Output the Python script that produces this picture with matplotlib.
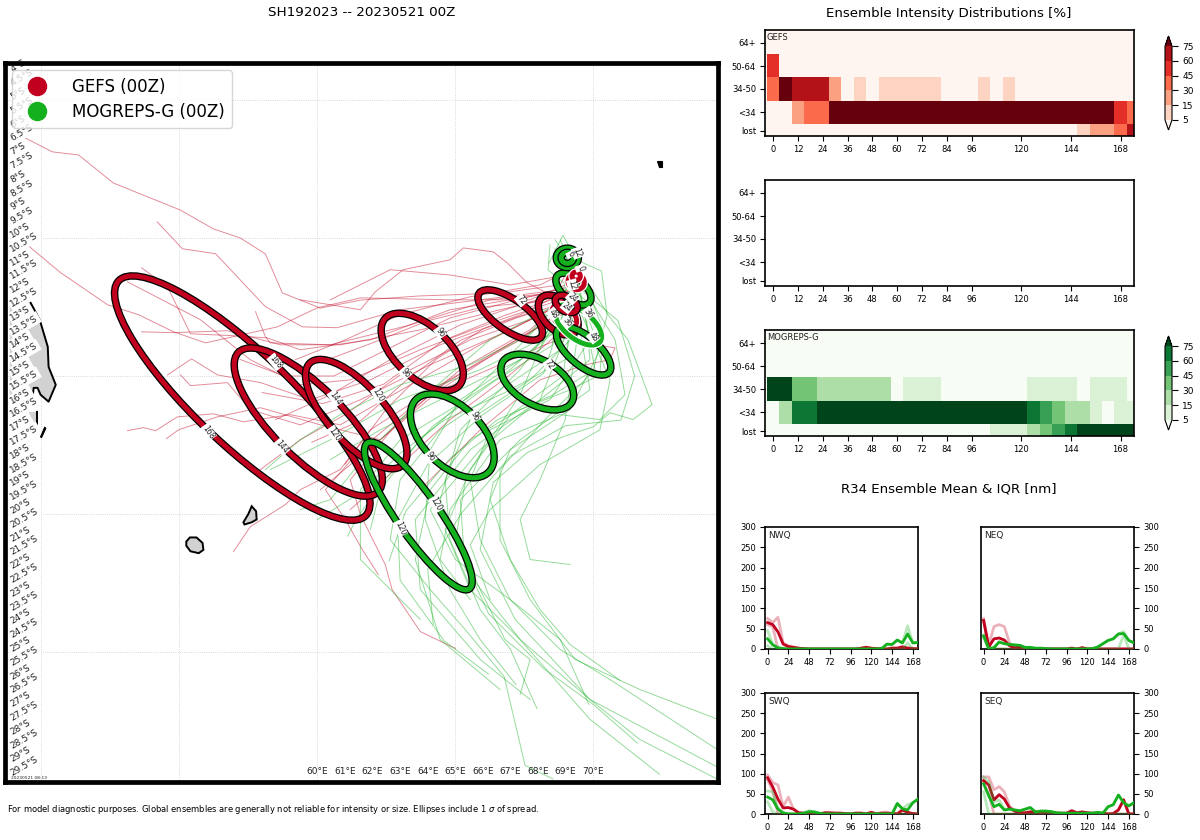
import numpy as np
import matplotlib
matplotlib.use("Agg")
import matplotlib.pyplot as plt
from matplotlib.colors import BoundaryNorm
from matplotlib.lines import Line2D
from matplotlib.patches import Ellipse, Polygon

#Colours
GEFS_COLOR = "#c1001f"
MOG_COLOR = "#14b01e"

#Ensemble member tracks, each row is [lons, lats]
gefs_tracks = [
    [[49.42,50.4,51.34,52.61,55.04,56.23,57.21,58.12,58.73,60.11,61.56,63.7,66.6,68.8,69.2],
     [-6.38,-6.88,-6.99,-8.01,-8.99,-9.67,-10.0,-10.58,-11.99,-12.54,-12.25,-12.1,-12.0,-11.7,-10.9]],
    [[54.2,55.11,56.31,58.12,59.46,60.72,63.0,65.9,68.8],
     [-9.42,-10.39,-10.57,-12.49,-13.22,-13.25,-12.6,-12.24,-11.88]],
    [[49.57,50.7,52.4,53.52,54.79,55.95,58.55,60.0,61.56,64.8,67.7,69.0],
     [-10.32,-11.26,-12.42,-12.78,-13.4,-13.8,-13.22,-12.53,-12.17,-12.24,-12.24,-11.7]],
    [[53.63,54.57,55.4,56.96,58.19,59.38,61.92,64.81,68.07],
     [-11.08,-11.77,-13.47,-13.54,-13.62,-14.05,-13.69,-12.6,-12.06]],
    [[53.12,55.76,57.57,59.38,61.19,63.73,66.62,68.8],
     [-11.59,-12.96,-14.41,-15.32,-15.14,-14.05,-12.96,-12.24]],
    [[53.63,54.79,56.74,58.66,60.83,63.73,66.62,69.0],
     [-13.4,-13.43,-13.36,-13.87,-13.87,-13.33,-12.6,-12.06]],
    [[54.57,55.44,56.38,57.94,59.75,61.92,64.45,67.35,69.09],
     [-14.96,-14.38,-14.96,-15.24,-15.86,-15.14,-13.87,-12.78,-11.88]],
    [[55.04,55.4,56.74,57.57,59.38,61.56,64.09,66.99,69.16],
     [-14.96,-15.35,-15.24,-16.22,-16.77,-15.86,-14.59,-13.33,-12.24]],
    [[53.12,53.7,54.14,54.93,56.24,57.32,59.02,60.83,63.37,65.9,68.8],
     [-16.98,-16.87,-16.98,-16.48,-16.37,-16.66,-16.4,-16.77,-15.32,-13.87,-12.42]],
    [[54.53,54.97,56.38,57.94,60.11,62.28,64.45,66.62,69.0],
     [-17.27,-16.95,-16.48,-16.15,-16.77,-17.31,-15.5,-14.05,-12.6]],
    [[65.0,63.73,62.71,62.46,61.56,61.19,63.0,65.18,67.7,69.0],
     [-24.87,-24.26,-22.74,-21.83,-20.02,-18.76,-16.58,-14.77,-13.33,-12.24]],
    [[62.21,61.63,61.01,60.29,61.56,63.73,66.26,69.16],
     [-22.2,-21.29,-20.2,-19.12,-17.67,-15.86,-14.23,-12.6]],
    [[56.96,57.57,58.84,59.38,60.83,61.92,64.45,67.35,69.16],
     [-21.36,-20.46,-19.66,-19.12,-18.39,-16.95,-15.32,-13.69,-12.42]],
    [[59.38,61.56,62.1,63.11,64.81,65.29,66.37,66.88,67.6,68.8],
     [-12.24,-12.6,-11.95,-11.15,-10.79,-10.36,-10.5,-10.9,-11.62,-12.24]],
    [[57.76,58.12,58.3,60.47,63.37,66.26,68.87],
     [-12.67,-13.58,-13.8,-13.87,-13.15,-12.24,-11.95]],
    [[57.94,59.38,61.01,63.0,65.54,67.7,69.16],
     [-18.39,-17.31,-16.4,-14.96,-13.69,-12.96,-12.17]],
    [[58.48,60.47,62.64,65.18,67.35,69.23],
     [-16.58,-15.68,-14.41,-13.15,-12.42,-11.88]],
    [[59.2,61.01,63.0,65.54,68.07,69.16],
     [-14.41,-13.69,-12.78,-12.13,-11.7,-11.15]],
    [[60.47,62.64,64.81,66.99,69.09],
     [-12.24,-11.15,-11.34,-11.7,-11.33]],
    [[61.19,62.82,64.81,66.99,69.34],
     [-19.84,-18.39,-16.58,-14.95,-12.96]],
    [[60.11,62.28,64.09,66.62,68.25,69.7],
     [-19.12,-17.31,-15.68,-14.59,-13.87,-13.33]],
    [[68.8,70.06,70.79,70.6,69.7,68.07,65.9,63.73],
     [-12.6,-13.87,-13.98,-14.41,-14.6,-15.14,-16.95,-19.12]],
    [[57.2,58.8,60.6,62.6,64.8,67.0,69.0],
     [-14.4,-15.0,-15.0,-14.0,-12.9,-12.3,-11.8]],
    [[58.0,60.2,62.4,64.6,66.8,68.9],
     [-15.6,-16.0,-15.3,-13.7,-12.8,-12.1]],
    [[59.8,61.6,63.4,65.2,67.2,69.1],
     [-17.4,-16.6,-15.0,-13.7,-12.9,-12.3]],
    [[60.4,62.0,64.0,66.0,68.0,69.2],
     [-14.4,-13.8,-13.0,-12.5,-12.3,-11.9]],
    [[61.0,62.5,64.3,66.0,68.0],
     [-18.2,-16.2,-14.4,-13.3,-12.6]],
]

mog_tracks = [
    [[69.05,70.61,71.26,72.13,71.44,70.61,70.0,68.9,67.6,66.37,65.9,67.17,69.88,74.52],
     [-10.43,-12.89,-13.69,-16.04,-16.58,-16.33,-16.84,-17.2,-17.78,-18.86,-21.29,-23.82,-26.72,-29.18]],
    [[68.62,69.88,70.35,70.24,69.16,67.35,65.54,64.09,63.55,64.45,66.62],
     [-10.07,-12.06,-13.33,-14.96,-15.5,-16.22,-17.31,-19.12,-21.65,-24.55,-26.36]],
    [[68.9,69.34,68.8,66.62,64.45,63.0,62.64,64.09,65.36,66.77,67.53,68.54],
     [-10.25,-12.24,-14.05,-15.5,-16.95,-18.76,-20.93,-22.74,-24.19,-25.89,-29.11,-29.6]],
    [[69.16,69.16,67.35,65.18,64.09,63.91,64.81,65.9,67.2],
     [-10.79,-12.96,-14.41,-15.86,-17.67,-20.2,-22.74,-24.55,-26.18]],
    [[69.23,69.52,67.71,65.54,64.63,64.81,65.9,67.0,67.96],
     [-10.97,-13.33,-15.14,-16.58,-18.76,-20.93,-23.46,-24.91,-27.05]],
    [[69.34,69.88,68.43,66.26,65.54,65.9,66.99,68.8,69.84],
     [-11.15,-13.69,-15.86,-16.95,-18.76,-20.93,-23.1,-24.55,-26.9]],
    [[68.98,70.24,69.16,66.99,66.26,66.99,68.07,69.16,70.97],
     [-10.61,-14.05,-16.22,-17.67,-19.48,-21.65,-23.46,-24.73,-26.03]],
    [[69.52,70.06,68.25,66.62,66.62,67.71,69.34,71.69,74.52],
     [-11.88,-14.78,-16.58,-18.39,-20.93,-23.1,-25.27,-26.36,-27.44]],
    [[69.16,69.88,67.35,65.18,65.36,67.35,69.88,71.69,74.52],
     [-11.15,-15.5,-17.31,-19.48,-22.01,-24.55,-26.72,-28.17,-29.62]],
    [[69.16,68.8,65.9,63.0,60.47,58.3],
     [-10.79,-13.33,-14.77,-15.86,-17.31,-18.39]],
    [[68.98,66.26,63.73,61.92,60.47,59.38],
     [-12.24,-13.69,-15.86,-17.67,-19.48,-19.84]],
    [[69.34,66.99,64.81,63.0,61.56,61.56,63.73],
     [-12.6,-14.77,-16.22,-17.31,-19.12,-21.65,-23.82]],
    [[69.52,68.98,68.07,67.35,67.71,69.16],
     [-12.96,-16.58,-18.76,-20.2,-21.65,-21.83]],
    [[69.16,67.35,65.18,64.45,65.9,66.8,67.71,67.35],
     [-12.24,-14.77,-16.95,-19.48,-22.74,-24.55,-25.27,-26.54]],
    [[68.8,69.34,70.79,71.15,70.24,68.8,66.62,64.81,64.45,65.54],
     [-10.07,-11.33,-13.69,-15.68,-16.58,-16.4,-17.31,-19.84,-21.65,-23.1]],
    [[68.43,68.36,69.7,69.88,68.07,65.54,63.55,63.73,65.9,67.71],
     [-10.25,-11.16,-12.24,-14.41,-15.86,-17.67,-20.2,-22.74,-25.27,-26.72]],
    [[69.16,67.71,65.54,63.0,60.83,59.38,58.12],
     [-11.88,-13.51,-14.59,-15.32,-16.4,-17.31,-18.39]],
    [[69.16,67.35,65.54,63.73,62.28,61.92],
     [-11.7,-13.87,-15.68,-17.31,-19.12,-20.57]],
    [[69.52,68.07,65.9,64.09,65.0,66.99,68.8,70.61,74.52],
     [-12.24,-15.86,-17.67,-19.84,-21.65,-23.1,-24.91,-26.0,-28.55]],
    [[68.98,67.35,65.54,64.63,65.54,67.35,69.88,72.4],
     [-11.88,-15.68,-18.39,-20.57,-22.74,-24.55,-27.44,-29.43]],
    [[69.34,70.61,70.24,68.07,66.26,65.54,66.26],
     [-12.24,-15.14,-16.95,-18.21,-19.84,-21.11,-23.1]],
    [[69.41,68.07,64.81,62.28,60.47],
     [-11.52,-14.05,-15.68,-16.95,-18.03]],
    [[68.4,68.9,69.4,70.3,70.5,70.0,68.5,66.5,64.8,63.2,62.6],
     [-10.9,-9.9,-10.8,-11.2,-12.8,-14.8,-15.7,-16.6,-18.0,-19.9,-21.7]],
    [[68.6,69.6,70.9,71.5,71.0,69.0,67.0,65.2,64.0,64.2],
     [-10.4,-11.9,-13.0,-15.0,-16.6,-16.8,-17.9,-20.0,-22.0,-24.0]],
    [[69.0,68.5,66.4,64.2,62.4,61.4,61.1],
     [-11.5,-13.9,-15.2,-16.8,-18.8,-20.2,-20.8]],
    [[69.2,68.2,66.0,64.0,62.9,63.0,64.6,66.2],
     [-11.8,-14.9,-16.4,-18.2,-20.2,-22.4,-24.6,-25.8]],
    [[69.3,68.9,67.0,65.4,65.0,66.2,68.2,70.0,71.6],
     [-12.2,-15.0,-16.4,-18.6,-21.0,-23.6,-25.6,-26.9,-28.3]],
    [[69.4,69.0,66.8,64.6,63.0,61.6,60.0],
     [-12.0,-14.4,-15.6,-16.6,-17.8,-19.2,-20.2]],
]

#Spread ellipses
gefs_ell_lon = [57.28, 59.67, 61.41, 63.80, 66.99, 68.73, 68.95, 69.02, 69.38, 69.38]
gefs_ell_lat = [-15.80, -16.67, -16.38, -14.13, -12.79, -12.79, -12.85, -12.39, -11.59, -11.38]
gefs_ell_w = [12.35, 7.15, 5.0, 3.62, 2.75, 1.75, 1.05, 0.87, 0.60, 0.30]
gefs_ell_h = [3.4, 2.55, 2.05, 1.9, 1.12, 1.05, 0.70, 0.54, 0.55, 0.30]
gefs_ell_ang = [-43.5, -45, -48, -42, -35, -45, -45, -30, -30, 0]
gefs_ell_edge = ["black", "black", "black", "black", "black", "black", "white", "black", "white", "white"]

mog_ell_lon = [63.66, 64.89, 67.97, 69.65, 69.46, 69.28, 69.06, 69.06]
mog_ell_lat = [-20.07, -17.17, -15.22, -14.09, -13.15, -11.85, -10.72, -10.72]
mog_ell_w = [6.45, 3.72, 2.9, 2.42, 1.99, 1.52, 0.80, 0.45]
mog_ell_h = [1.52, 2.14, 1.62, 1.05, 1.01, 0.80, 0.70, 0.40]
mog_ell_ang = [-55, -45, -30, -40, -38, -40, 0, 0]
mog_ell_edge = ["black", "black", "black", "black", "white", "black", "black", "black"]

#Hour labels on the ellipses
gefs_lab_text = ["168", "168", "144", "144", "120", "120", "96", "96", "72", "48", "36", "24", "12", "0"]
gefs_lab_lon = [58.48, 56.05, 60.65, 58.70, 62.21, 60.62, 64.46, 63.19, 67.39, 68.55, 69.05, 69.05, 69.24, 69.53]
gefs_lab_lat = [-14.49, -17.03, -15.80, -17.57, -15.69, -17.10, -13.41, -14.89, -12.25, -12.75, -13.05, -12.5, -11.70, -11.09]
gefs_lab_rot = [-50, -55, -55, -50, -60, -55, -55, -50, -50, -50, -50, -40, -75, -70]

mog_lab_text = ["120", "120", "96", "96", "72", "48", "36", "24", "12", "6"]
mog_lab_lon = [64.31, 63.01, 65.69, 64.09, 68.41, 70.0, 69.82, 69.24, 69.42, 69.2]
mog_lab_lat = [-19.64, -20.51, -16.45, -17.93, -14.60, -13.59, -12.72, -12.17, -10.54, -10.58]
mog_lab_rot = [-60, -65, -65, -55, -55, -50, -55, -45, -70, -60]

#Coastlines
mad_lon = [48.85, 49.61, 49.94, 50.23, 50.26, 50.52, 50.26, 49.97, 49.86, 49.72, 49.68, 48.85]
mad_lat = [-12.35, -12.35, -12.97, -13.94, -14.67, -15.32, -15.93, -15.68, -15.43, -15.43, -15.75, -15.75]
mad2_lon = [49.2, 49.84, 49.84, 49.7, 49.2]
mad2_lat = [-16.3, -16.3, -16.9, -17.1, -17.1]
islet_lon = [50.12, 49.97, 50.0, 50.16]
islet_lat = [-16.85, -17.2, -17.24, -16.9]
reunion_lon = [55.25, 55.38, 55.62, 55.84, 55.87, 55.7, 55.4, 55.25]
reunion_lat = [-21.0, -20.85, -20.85, -21.05, -21.3, -21.42, -21.35, -21.15]
mauritius_lon = [57.32, 57.5, 57.62, 57.78, 57.8, 57.62, 57.36, 57.32]
mauritius_lat = [-20.3, -20.0, -19.72, -19.9, -20.2, -20.3, -20.38, -20.3]
seychelles_lon = [72.32, 72.5, 72.5, 72.38]
seychelles_lat = [-7.2, -7.2, -7.42, -7.42]

#Heatmap rows, bottom to top: lost, <34, 34-50, 50-64, 64+
intensity_labels = ["lost", "<34", "34-50", "50-64", "64+"]
heat_hours = list(range(0, 180, 6))
hour_ticks = [0, 12, 24, 36, 48, 60, 72, 84, 96, 120, 144, 168]
levels = [5, 15, 30, 45, 60, 75]

gefs_lost = [0]*25 + [10, 20, 20, 35, 65]
gefs_lt34 = [0, 0, 20, 35, 35] + [80]*23 + [50, 35]
gefs_3450 = [35, 80, 65, 65, 65, 20, 0, 10, 0, 10, 10, 10, 10, 10, 0, 0, 0, 10, 0, 10] + [0]*10
gefs_5064 = [50] + [0]*29
gefs_64up = [0]*30

mog_lost = [0]*18 + [10, 10, 10, 20, 35, 50, 65, 80, 80, 80, 80, 80]
mog_lt34 = [0, 20, 65, 65] + [80]*17 + [65, 50, 35, 20, 20, 10, 0, 10, 10]
mog_3450 = [80, 80, 35, 35, 20, 20, 20, 20, 20, 20, 0, 10, 10, 10] + [0]*7 + [10, 10, 10, 10, 0, 10, 10, 10, 0]
mog_5064 = [0]*30
mog_64up = [0]*30

#R34 radii every 6 h
r34_hours = list(range(0, 180, 6))
r34_ticks = [0, 24, 48, 72, 96, 120, 144, 168]

nwq_gefs = [65,60,42,12,6,4,2,1,0,0, 0,0,0,0,0,0,0,0,2,4, 2,1,0,0,2,2,5,2,1,0]
nwq_gefs_hi = [75,65,78,15,8,5,2,1,0,0, 0,0,0,0,0,0,0,0,2,5, 2,1,0,0,3,3,6,3,2,1]
nwq_gefs_lo = [60,55,0,0,0,0,0,0,0,0, 0,0,0,0,0,0,0,0,0,0, 0,0,0,0,0,0,0,0,0,0]
nwq_mog = [25,10,3,1,0,0,0,0,0,0, 0,0,0,0,0,0,0,0,0,0, 0,0,1,12,11,22,15,37,15,16]
nwq_mog_hi = [45,12,3,1,0,0,0,0,0,0, 0,0,0,0,0,0,0,0,0,0, 0,0,1,12,12,22,15,57,15,16]
nwq_mog_lo = [8,0,0,0,0,0,0,0,0,0, 0,0,0,0,0,0,0,0,0,0, 0,0,0,0,0,0,0,15,0,0]

neq_gefs = [70,5,25,27,22,8,3,5,0,0, 0,0,0,0,0,0,0,2,0,3, 0,0,0,0,0,0,0,0,0,0]
neq_gefs_hi = [75,10,55,60,55,15,5,5,1,0, 0,0,0,0,0,0,0,3,0,4, 1,0,0,0,0,0,0,0,0,0]
neq_gefs_lo = [70,0,0,0,0,0,0,0,0,0, 0,0,0,0,0,0,0,0,0,0, 0,0,0,0,0,0,0,0,0,0]
neq_mog = [32,0,3,17,13,11,10,9,4,4, 2,1,1,0,0,0,0,0,0,0, 0,1,5,13,21,25,37,38,21,15]
neq_mog_hi = [35,2,5,18,14,12,10,9,4,4, 2,4,1,0,0,0,0,0,0,0, 0,1,5,13,21,25,37,43,21,15]
neq_mog_lo = [28,0,0,0,0,0,0,0,0,0, 0,0,0,0,0,0,0,0,0,0, 0,0,0,0,0,0,0,35,0,0]

swq_gefs = [90,67,37,15,16,12,3,2,2,2, 0,3,3,2,2,1,0,2,2,0, 4,0,2,2,1,0,10,4,1,0]
swq_gefs_hi = [97,78,72,18,42,12,3,2,2,2, 1,3,3,3,3,1,1,3,3,1, 5,1,4,5,2,1,11,4,1,0]
swq_gefs_lo = [85,58,0,0,0,0,0,0,0,0, 0,0,0,0,0,0,0,0,0,0, 0,0,0,0,0,0,0,0,0,0]
swq_mog = [42,35,12,3,0,0,0,2,6,5, 2,0,0,0,0,0,0,0,0,0, 0,0,0,0,0,26,13,10,28,37]
swq_mog_hi = [57,55,15,3,0,0,0,3,8,6, 2,0,0,0,0,0,0,0,0,0, 0,0,0,0,0,26,13,23,28,37]
swq_mog_lo = [30,5,0,0,0,0,0,0,0,0, 0,0,0,0,0,0,0,0,0,0, 0,0,0,0,0,0,0,0,0,0]

seq_gefs = [83,72,35,48,37,15,7,3,3,5, 5,3,5,4,2,2,2,8,3,5, 3,2,2,2,0,1,10,35,0,0]
seq_gefs_hi = [92,92,60,68,55,20,8,4,4,6, 6,4,7,5,3,2,2,9,3,6, 3,2,2,2,1,1,11,36,1,0]
seq_gefs_lo = [78,50,0,0,0,0,0,0,0,0, 0,0,0,0,0,0,0,0,0,0, 0,0,0,0,0,0,0,0,0,0]
seq_mog = [75,45,18,24,10,12,10,8,12,16, 5,7,7,6,3,2,2,2,2,2, 2,2,4,2,18,23,47,28,20,28]
seq_mog_hi = [92,80,30,35,12,13,10,8,12,16, 6,8,8,6,3,2,2,2,2,2, 2,2,5,2,18,23,47,28,20,28]
seq_mog_lo = [55,0,0,0,0,0,0,0,0,0, 0,0,0,0,0,0,0,0,0,0, 0,0,0,0,0,0,0,0,0,0]

fig = plt.figure(figsize=(12, 8.4), dpi=100)


#Axes placed by pixel box of the 1200x840 canvas
def px_axes(left, top, right, bottom):
    return fig.add_axes([left / 1200, 1 - bottom / 840, (right - left) / 1200, (bottom - top) / 840])


def fig_text(x, y, s, **kw):
    fig.text(x / 1200, 1 - y / 840, s, **kw)


#Map
ax = px_axes(5, 63, 718, 782)
ax.set_xlim(48.68, 74.52)
ax.set_ylim(-29.71, -3.66)
ax.set_xticks([])
ax.set_yticks([])
for s in ax.spines.values():
    s.set_linewidth(3.4)
    s.set_zorder(20)

for lon in [50, 55, 60, 65, 70]:
    ax.axvline(lon, color="#cccccc", lw=0.6, ls=":", zorder=1)
for lat in [-5, -10, -15, -20, -25]:
    ax.axhline(lat, color="#cccccc", lw=0.6, ls=":", zorder=1)

#Land fill first, coast only on the open side
ax.add_patch(Polygon(np.column_stack([mad_lon, mad_lat]), closed=True, fc="#d2d2d2", ec="none", zorder=2))
ax.add_patch(Polygon(np.column_stack([mad2_lon, mad2_lat]), closed=True, fc="#d2d2d2", ec="none", zorder=2))
ax.plot(mad_lon[1:-1], mad_lat[1:-1], color="black", lw=1.4, zorder=2)
ax.plot(mad2_lon[1:4], mad2_lat[1:4], color="black", lw=1.4, zorder=2)
for plon, plat in [(islet_lon, islet_lat), (seychelles_lon, seychelles_lat)]:
    ax.add_patch(Polygon(np.column_stack([plon, plat]), closed=True, fc="black", ec="black", lw=0.8, zorder=2))
for plon, plat in [(reunion_lon, reunion_lat), (mauritius_lon, mauritius_lat)]:
    ax.add_patch(Polygon(np.column_stack([plon, plat]), closed=True, fc="#d2d2d2", ec="black", lw=1.4, zorder=2))

for tlon, tlat in gefs_tracks:
    ax.plot(tlon, tlat, color=GEFS_COLOR, lw=0.7, alpha=0.45, zorder=3)
for tlon, tlat in mog_tracks:
    ax.plot(tlon, tlat, color=MOG_COLOR, lw=0.7, alpha=0.45, zorder=3)


def draw_ellipses(lons, lats, widths, heights, angles, edges, color, zorders):
    for i in range(len(lons)):
        ax.add_patch(Ellipse((lons[i], lats[i]), widths[i], heights[i], angle=angles[i], fill=False,
                             ec=edges[i], lw=5.4, zorder=zorders[i]))
        ax.add_patch(Ellipse((lons[i], lats[i]), widths[i], heights[i], angle=angles[i], fill=False,
                             ec=color, lw=3.6, zorder=zorders[i]))


draw_ellipses(gefs_ell_lon, gefs_ell_lat, gefs_ell_w, gefs_ell_h, gefs_ell_ang, gefs_ell_edge, GEFS_COLOR,
              [5, 5, 5, 5, 5, 5, 5, 8, 8, 8])
draw_ellipses(mog_ell_lon, mog_ell_lat, mog_ell_w, mog_ell_h, mog_ell_ang, mog_ell_edge, MOG_COLOR,
              [6, 6, 6, 6, 6, 6, 6, 6])

for txt, lon, lat, rot in zip(gefs_lab_text + mog_lab_text, gefs_lab_lon + mog_lab_lon,
                              gefs_lab_lat + mog_lab_lat, gefs_lab_rot + mog_lab_rot):
    ax.text(lon, lat, txt, fontsize=5.5, rotation=rot, ha="center", va="center", rotation_mode="anchor",
            color="#222222", zorder=9, bbox=dict(fc="white", ec="none", pad=0.5))

#Lat / lon labels drawn inside the frame
for lat in np.arange(-4, -30, -0.5):
    ax.text(48.9, lat + 0.08, f"{abs(lat):g}°S", fontsize=6.5, rotation=30, ha="left", va="center",
            rotation_mode="anchor", color="#222222", zorder=4,
            bbox=dict(fc="white", ec="none", pad=1.2))
for lon in range(60, 71):
    ax.text(lon, -29.33, f"{lon}°E", fontsize=6.5, ha="center", va="center", color="#222222", zorder=4)
ax.text(48.9, -29.55, "20230521 08:13", fontsize=3.2, ha="left", va="center", color="#222222", zorder=4)

handles = [Line2D([], [], marker="o", ls="none", ms=13, color=GEFS_COLOR),
           Line2D([], [], marker="o", ls="none", ms=13, color=MOG_COLOR)]
leg = ax.legend(handles, ["GEFS (00Z)", "MOGREPS-G (00Z)"], loc="upper left", fontsize=12, handletextpad=1.1,
                labelspacing=0.42, borderpad=0.45, bbox_to_anchor=(0.0105, 0.99), borderaxespad=0)
leg.set_zorder(15)

fig_text(362, 13, "SH192023 -- 20230521 00Z", fontsize=9.7, ha="center", va="center")
fig_text(949, 13, "Ensemble Intensity Distributions [%]", fontsize=9.6, ha="center", va="center")
fig_text(949, 489, "R34 Ensemble Mean & IQR [nm]", fontsize=9.65, ha="center", va="center")
fig_text(7, 810, r"For model diagnostic purposes. Global ensembles are generally not reliable for intensity or size. Ellipses include 1 $\sigma$ of spread.",
         fontsize=6, ha="left", va="center")

#Intensity heatmaps
y_edges = [0, 12, 35, 59, 82, 106]
y_centres = [5, 24, 47, 70, 93]
x_edges = [h - 3 for h in heat_hours] + [heat_hours[-1] + 3]


def heat_panel(top, label, rows, cmap_name):
    hax = px_axes(765, top, 1134, top + 106)
    hax.set_xlim(-3.9, 174.5)
    hax.set_ylim(0, 106)
    hax.set_xticks(hour_ticks)
    hax.set_yticks(y_centres)
    hax.set_yticklabels(intensity_labels)
    hax.tick_params(labelsize=6, length=3.5, width=0.8, pad=3)
    for s in hax.spines.values():
        s.set_linewidth(1.2)
    if rows is None:
        return
    cmap = plt.get_cmap(cmap_name, 7)
    norm = BoundaryNorm(levels, ncolors=7, extend="both")
    mesh = hax.pcolormesh(x_edges, y_edges, np.array(rows), cmap=cmap, norm=norm)
    hax.set_facecolor(cmap(0))
    hax.text(0.005, 0.93, label, transform=hax.transAxes, fontsize=6, ha="left", va="center", color="#222222")
    #Colorbar box includes the two triangles
    cax = px_axes(1165, top + 6, 1172, top + 100)
    cb = fig.colorbar(mesh, cax=cax, extend="both", ticks=levels, spacing="uniform", extendfrac=0.137)
    cb.ax.tick_params(labelsize=6.5, length=4.5, width=0.8, pad=3)
    cb.outline.set_linewidth(0.8)


heat_panel(30, "GEFS", [gefs_lost, gefs_lt34, gefs_3450, gefs_5064, gefs_64up], "Reds")
heat_panel(180, "", None, None)
heat_panel(330, "MOGREPS-G", [mog_lost, mog_lt34, mog_3450, mog_5064, mog_64up], "Greens")


#R34 panels
def r34_panel(box, label, gm, gh, gl, mm, mh, ml, right):
    rax = px_axes(*box)
    rax.plot(r34_hours, gm, color=GEFS_COLOR, lw=2, zorder=3)
    rax.plot(r34_hours, gh, color=GEFS_COLOR, lw=2, alpha=0.3, zorder=4)
    rax.plot(r34_hours, gl, color=GEFS_COLOR, lw=2, alpha=0.3, zorder=4)
    rax.plot(r34_hours, mh, color=MOG_COLOR, lw=2, alpha=0.3, zorder=5)
    rax.plot(r34_hours, ml, color=MOG_COLOR, lw=2, alpha=0.3, zorder=5)
    rax.plot(r34_hours, mm, color=MOG_COLOR, lw=2, zorder=6)
    rax.set_xlim(-3, 174)
    rax.set_ylim(0, 300)
    rax.set_xticks(r34_ticks)
    rax.set_yticks([0, 50, 100, 150, 200, 250, 300])
    rax.tick_params(labelsize=6, length=3.5, width=0.8, pad=3)
    if right:
        rax.yaxis.tick_right()
    for s in rax.spines.values():
        s.set_linewidth(1.2)
    rax.text(0.02, 0.93, label, transform=rax.transAxes, fontsize=6.5, ha="left", va="center", color="#222222")


r34_panel((765, 527, 918, 649), "NWQ", nwq_gefs, nwq_gefs_hi, nwq_gefs_lo, nwq_mog, nwq_mog_hi, nwq_mog_lo, False)
r34_panel((981, 527, 1134, 649), "NEQ", neq_gefs, neq_gefs_hi, neq_gefs_lo, neq_mog, neq_mog_hi, neq_mog_lo, True)
r34_panel((765, 693, 918, 814), "SWQ", swq_gefs, swq_gefs_hi, swq_gefs_lo, swq_mog, swq_mog_hi, swq_mog_lo, False)
r34_panel((981, 693, 1134, 814), "SEQ", seq_gefs, seq_gefs_hi, seq_gefs_lo, seq_mog, seq_mog_hi, seq_mog_lo, True)

plt.savefig("out.png", dpi=100)
plt.close()
